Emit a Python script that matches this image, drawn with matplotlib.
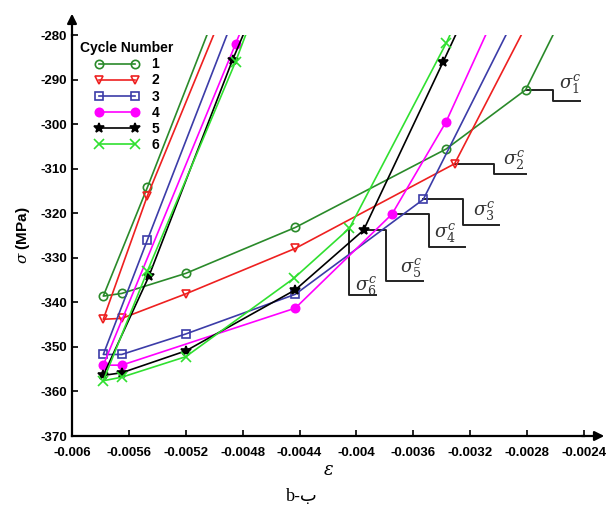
import matplotlib
matplotlib.use("Agg")
import matplotlib.pyplot as plt

# strain / stress points per cycle (top-end points lie above the clipped axis)
eps_1 = [-0.00499, -0.00547, -0.00578, -0.00565, -0.0052, -0.00443, -0.00337, -0.00281, -0.00254]
sig_1 = [-275, -314.2, -338.6, -338.0, -333.5, -323.2, -305.6, -292.3, -275]
eps_2 = [-0.00494, -0.00547, -0.00578, -0.00565, -0.0052, -0.00443, -0.00331, -0.00276]
sig_2 = [-275, -316.1, -343.8, -343.6, -338.1, -327.9, -308.9, -275]
eps_3 = [-0.00485, -0.00547, -0.00578, -0.00565, -0.0052, -0.00443, -0.00353, -0.00287]
sig_3 = [-275, -326.0, -351.7, -351.7, -347.1, -338.2, -316.9, -275]
eps_4 = [-0.00476, -0.00485, -0.00578, -0.00565, -0.00443, -0.00375, -0.00337, -0.00302]
sig_4 = [-275, -282.0, -354.1, -354.1, -341.3, -320.2, -299.5, -275]
eps_5 = [-0.00473, -0.00487, -0.00546, -0.00578, -0.00565, -0.0052, -0.00443, -0.00395, -0.00339, -0.00323]
sig_5 = [-275, -285.5, -334.2, -356.4, -355.8, -350.9, -337.2, -323.8, -286.0, -275]
eps_6 = [-0.00472, -0.00485, -0.00547, -0.00578, -0.00565, -0.0052, -0.00444, -0.00405, -0.00337, -0.00327]
sig_6 = [-275, -286.0, -333.0, -357.6, -356.8, -352.2, -334.6, -323.4, -281.9, -275]

labels = ['1', '2', '3', '4', '5', '6']
colors = ['#2a8a2a', '#ee2020', '#3c3ca8', '#ff00ff', '#000000', '#30e030']
markers = ['o', 'v', 's', 'o', '*', 'x']
filled = [False, False, False, True, True, True]

# critical stress points and the label for each
crit_eps = [-0.00281, -0.00331, -0.00353, -0.00375, -0.00395, -0.00405]
crit_sig = [-292.3, -308.9, -316.9, -320.2, -323.8, -323.4]

xticks = [-0.006, -0.0056, -0.0052, -0.0048, -0.0044, -0.004, -0.0036, -0.0032, -0.0028, -0.0024]
xticklabels = ['-0.006', '-0.0056', '-0.0052', '-0.0048', '-0.0044', '-0.004',
               '-0.0036', '-0.0032', '-0.0028', '-0.0024']
yticks = list(range(-370, -279, 10))

plt.rcParams['font.family'] = ['Liberation Sans', 'DejaVu Sans']
plt.rcParams['mathtext.fontset'] = 'dejavuserif'
plt.rcParams['axes.unicode_minus'] = False

fig = plt.figure(figsize=(6.09, 5.11), dpi=100)
ax = fig.add_axes([72 / 609, 75 / 511, 512 / 609, 401 / 511])

all_eps = [eps_1, eps_2, eps_3, eps_4, eps_5, eps_6]
all_sig = [sig_1, sig_2, sig_3, sig_4, sig_5, sig_6]
for e, s, lab, c, m, f in zip(all_eps, all_sig, labels, colors, markers, filled):
    ms = {'*': 7.5, 'x': 7}.get(m, 6)
    ax.plot(e, s, color=c, lw=1.2, marker=m, ms=ms,
            mfc=c if f else 'none', mec=c, mew=1.2, label=lab)

ax.set_xlim(-0.006, -0.0024)
ax.set_ylim(-370, -280)
ax.set_xticks(xticks)
ax.set_xticklabels(xticklabels)
ax.set_yticks(yticks)
for sp in ['top', 'right']:
    ax.spines[sp].set_visible(False)
for sp in ['left', 'bottom']:
    ax.spines[sp].set_linewidth(1.6)
ax.tick_params(direction='in', length=4, width=1.2, labelsize=9.5)
ax.tick_params(axis='x', pad=8)
for t in ax.get_xticklabels() + ax.get_yticklabels():
    t.set_fontweight('bold')

# axis arrows
ax.annotate('', xy=(0, 1.06), xytext=(0, 0.99), xycoords='axes fraction',
            arrowprops=dict(arrowstyle='-|>', color='black', lw=1.6, mutation_scale=14))
ax.annotate('', xy=(1.045, 0), xytext=(0.99, 0), xycoords='axes fraction',
            arrowprops=dict(arrowstyle='-|>', color='black', lw=1.6, mutation_scale=14))

ax.set_ylabel(r'$\sigma$ (MPa)', fontsize=11, fontweight='bold', labelpad=6)
ax.set_xlabel(r'$\varepsilon$', fontsize=13, labelpad=2)

leg = ax.legend(title='Cycle Number', loc='upper left', bbox_to_anchor=(0.0, 1.005),
                frameon=False, numpoints=2, handlelength=3.2, fontsize=10,
                title_fontproperties={'weight': 'bold', 'size': 10},
                labelspacing=0.15, borderaxespad=0.2, handletextpad=0.9)
for t in leg.get_texts():
    t.set_fontweight('bold')

# bracket leaders (offsets in data units: dx1, drop, dx2) and label positions
lead = [(0.00019, -2.5, 0.00019), (0.00028, -2.4, 0.00022), (0.00028, -5.8, 0.00025),
        (0.00026, -7.3, 0.00025), (0.00016, -11.3, 0.00026), (0.0, -15.0, 0.00019)]
txt_off = [(0.00031, 1.2), (0.00042, 0.7), (0.00043, -2.6), (0.00037, -4.3), (0.00033, -8.7), (0.00012, -13.0)]
for i in range(6):
    x0, y0 = crit_eps[i], crit_sig[i]
    dx1, dy, dx2 = lead[i]
    xs = [x0, x0 + dx1, x0 + dx1, x0 + dx1 + dx2]
    ys = [y0, y0, y0 + dy, y0 + dy]
    ax.plot(xs, ys, color='#222222', lw=1.4, clip_on=False, zorder=1)
    ax.text(x0 + txt_off[i][0], y0 + txt_off[i][1], r'$\sigma_{%d}^{c}$' % (i + 1),
            fontsize=13, color='#333333', ha='center', va='center')

fig.text(302 / 609, 1 - 496 / 511, 'b-ب', family=['Liberation Serif', 'DejaVu Sans'],
         fontsize=13, ha='center', va='center')

fig.savefig('out.png', dpi=100)
